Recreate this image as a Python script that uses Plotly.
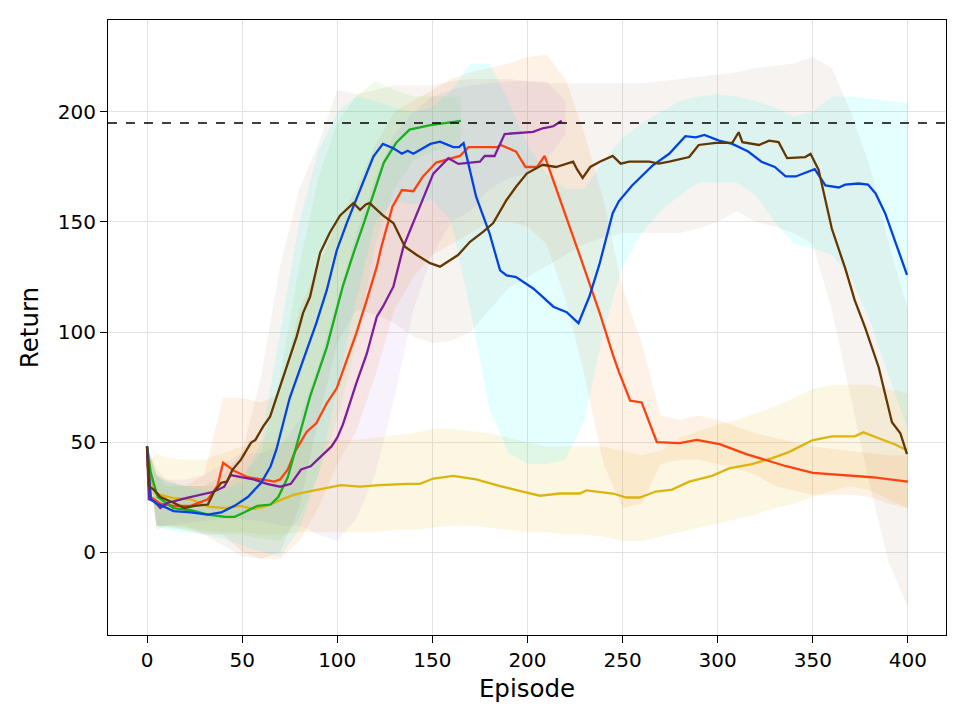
import plotly.graph_objects as go

# Curvas médias (episódio, retorno)
blue_ep = [0, 2, 5, 8, 14, 23, 32, 39, 46, 53, 60, 65, 68, 72, 75, 82, 89, 94.5, 99.7, 105, 112, 119, 124, 129.5, 134, 137, 140, 145, 149, 154, 161, 164, 166.4, 173, 180, 185.6, 189, 194, 203, 208, 213.6, 220.6, 226.8, 232.5, 237.8, 244.8, 248, 255, 265.7, 274.5, 283, 288.5, 293, 300.7, 307.7, 316, 323, 330, 335.7, 341, 351, 356.6, 363.6, 367, 374, 379, 383, 388, 393, 399.5]
blue_val = [48, 24, 22, 21, 18.6, 18, 17, 18, 21, 25, 31.5, 39, 46.5, 60, 70, 87, 104, 119, 137, 149.5, 164.5, 179.7, 185.5, 183.5, 181, 182.4, 181, 183.5, 185.5, 186.5, 184, 184, 185.8, 161.5, 145, 128, 125.7, 125, 119.8, 116, 111.5, 109, 104, 116, 130.7, 154, 159.4, 166.6, 175.6, 181, 189, 188.5, 189.6, 187, 185.5, 182, 177.4, 175, 170.7, 170.7, 174, 166.6, 165.7, 167, 167.5, 167, 163, 154, 141.5, 126]

green_ep = [0, 2, 5.6, 14, 23, 32, 41, 46, 51, 58, 65, 69, 74, 79, 85.7, 94.5, 103, 109, 114, 124.5, 131, 138, 149, 165]
green_val = [48, 36, 25, 20, 19, 17, 16, 16, 18, 21, 21.6, 25, 34, 50, 70.6, 93, 121, 137, 149.5, 177, 186, 192, 194, 196]

red_ep = [0, 2, 7, 14, 23, 32, 37, 40, 46, 53, 60, 67, 70, 74, 78, 84, 89, 94.5, 99.7, 105, 110, 115.5, 120.8, 123, 129, 134, 140, 145, 152, 164.5, 169, 184, 186, 194, 199, 205, 209, 227, 238, 245, 248, 254, 260, 268, 280, 289, 301, 315, 325, 336, 350, 367, 381, 400]
red_val = [48, 25, 22, 21, 21, 24, 30, 40.6, 36.8, 34, 33, 32, 33, 37.5, 46, 54.7, 58.5, 67.6, 74.4, 87, 99.4, 114.5, 129.7, 138, 157, 164.5, 164, 170.6, 177, 180, 184, 184, 185, 182, 175, 175, 180, 136, 108.6, 89.4, 82, 68.8, 68, 50, 49.5, 51, 49, 44.5, 41.8, 39, 36, 35, 34, 32]

purple_ep = [0, 1, 4, 7, 11, 14, 21, 28, 35, 40.6, 44, 49.4, 56, 63, 70, 75.6, 81, 86, 93, 97, 100, 103, 106, 110, 115.5, 120.8, 124, 129.5, 134.8, 141.8, 150.5, 158.4, 163.7, 175, 177.5, 182.7, 188, 203, 208, 213.6, 218]
purple_val = [48, 24, 23, 20, 22.5, 23, 24.6, 26, 27.4, 29.7, 35, 34, 33, 31, 29.7, 31, 37.5, 39, 45, 48, 52, 58, 66, 76.7, 90, 107, 111.5, 120.6, 138.8, 154, 172, 179, 176.4, 177.4, 180, 180, 190, 191, 192.6, 193.5, 196]

brown_ep = [0, 1, 4, 7, 14, 19.6, 25, 32, 35, 39, 42, 45, 49.4, 54.6, 57, 61, 64.7, 71.7, 78.7, 82, 85.7, 91, 96, 101.5, 106.7, 108.5, 112, 115, 117, 124, 129.5, 135.6, 141.8, 148.8, 154, 159, 163.5, 169.8, 176.8, 182, 189, 194, 199.6, 204.9, 208, 215, 219, 224, 226, 229, 233, 238, 244.8, 249, 253.5, 264, 269, 274.5, 285, 290, 299, 307.7, 311, 313, 321.7, 327, 332, 336.5, 346, 348.8, 353, 360, 367, 372, 377.5, 384.6, 391.6, 396, 399.5]
brown_val = [48, 30, 28, 25, 22.4, 20, 21, 21.6, 27, 31.5, 32, 37.5, 42, 49.6, 51, 57, 61.5, 79.7, 98, 108.6, 116, 136, 145, 153, 157, 158.6, 155.5, 158, 158.6, 153, 149.5, 138.8, 135, 131.3, 129.7, 132.7, 135, 141, 145.6, 149.5, 160, 166, 172, 174.5, 176, 175, 176, 177.4, 174, 170, 175, 177.4, 180, 176.5, 177.4, 177.4, 176.5, 177.4, 179.5, 185, 186, 186, 190.8, 186.3, 185, 187, 186.3, 179, 179.5, 181, 173.8, 146.9, 129, 114.5, 102, 84, 59, 54, 44.5]

gold_ep = [0, 2, 4, 7, 14, 23, 32, 41, 49, 56, 63, 70, 77, 84, 93, 102, 112, 122, 137, 143.5, 150.5, 161, 173, 185.6, 198, 206.6, 217, 227.5, 231, 245, 252, 259, 267.5, 276, 285, 297, 306, 318, 328.7, 337.4, 349.7, 360, 372, 376.6, 384.6, 393, 399.5]
gold_val = [40, 33, 27, 26, 24.5, 24, 20.6, 20, 21, 19.6, 21, 23.6, 26, 27.4, 29, 30.4, 29.7, 30.4, 31, 31, 33.4, 34.6, 33, 30, 27.4, 25.6, 26.6, 26.6, 28, 26.6, 24.8, 24.8, 27.5, 28.4, 32, 34.6, 38, 40, 42.7, 45.4, 50.8, 52.6, 52.6, 54.4, 51.7, 49, 46.3]

# Faixas de variação (limite superior / inferior)
band_ep = [0, 5, 10, 20, 30, 40, 50, 60, 70, 80, 90, 100, 110, 120, 130, 140, 150, 160, 170, 180, 190, 200,
           210, 220, 230, 240, 250, 260, 270, 280, 290, 300, 310, 320, 330, 340, 350, 360, 370, 380, 390, 400]

blue_up = [48, 35, 32, 30, 28, 28, 32, 50, 100, 150, 182, 200, 207, 205, 202, 200, 202, 210, 222, 222, 205, 185,
           172, 165, 165, 178, 188, 195, 200, 205, 207, 208, 207, 205, 202, 198, 200, 207, 207, 206, 205, 204]
blue_lo = [48, 12, 10, 9, 8, 6, 3, 0, -2, 10, 35, 75, 115, 150, 160, 158, 160, 150, 110, 65, 45, 40,
           40, 42, 60, 100, 130, 145, 155, 162, 168, 168, 168, 162, 150, 140, 138, 135, 125, 105, 80, 55]

brown_up = [48, 38, 33, 30, 30, 35, 45, 80, 130, 165, 185, 210, 208, 210, 212, 212, 212, 214, 215, 215, 215, 214,
            213, 213, 213, 213, 213, 213, 214, 215, 216, 217, 218, 220, 221, 222, 225, 220, 200, 175, 140, 110]
brown_lo = [48, 10, 12, 12, 8, 3, -2, -3, 0, 20, 60, 95, 110, 108, 104, 98, 95, 96, 100, 110, 120, 125,
            130, 135, 140, 143, 145, 145, 145, 145, 147, 150, 155, 150, 148, 145, 140, 110, 70, 30, -5, -25]

red_up = [48, 35, 30, 30, 35, 70, 70, 68, 72, 110, 130, 150, 165, 185, 200, 205, 210, 215, 218, 220, 222, 225,
          226, 215, 190, 160, 120, 95, 62, 60, 62, 60, 57, 54, 52, 50, 48, 47, 46, 45, 44, 44]
red_lo = [48, 12, 12, 10, 8, 8, 0, -3, -3, 5, 20, 40, 55, 80, 110, 125, 135, 140, 145, 150, 150, 148,
          140, 115, 80, 40, 20, 22, 40, 42, 42, 40, 38, 35, 30, 28, 26, 26, 26, 25, 22, 20]

gold_up = [40, 45, 43, 42, 42, 45, 48, 50, 50, 50, 50, 51, 51, 52, 53, 54, 56, 56, 55, 54, 52, 50,
           48, 48, 48, 48, 46, 44, 46, 52, 55, 58, 60, 63, 66, 70, 74, 76, 76, 76, 74, 72]
gold_lo = [40, 12, 12, 11, 10, 9, 9, 8, 8, 9, 9, 9, 9, 9, 10, 10, 11, 12, 12, 11, 10, 9,
           9, 8, 8, 7, 5, 5, 7, 9, 11, 13, 15, 17, 20, 22, 25, 28, 30, 28, 24, 20]

green_band_ep = [0, 5, 10, 20, 30, 40, 50, 60, 70, 80, 90, 100, 110, 120, 130, 140, 150, 160, 165]
green_up = [48, 35, 32, 30, 30, 30, 35, 45, 80, 130, 170, 195, 207, 214, 210, 207, 207, 207, 207]
green_lo = [48, 12, 11, 10, 9, 8, 8, 6, 5, 15, 35, 60, 95, 140, 165, 178, 182, 184, 185]

purple_band_ep = [0, 5, 10, 20, 30, 40, 50, 60, 70, 80, 90, 100, 110, 120, 130, 140, 150, 160, 170, 180, 190, 200, 210, 220]
purple_up = [48, 35, 33, 33, 35, 40, 45, 45, 48, 60, 85, 115, 145, 170, 190, 200, 207, 210, 212, 213, 214, 214, 214, 205]
purple_lo = [48, 12, 12, 13, 14, 15, 15, 14, 12, 12, 8, 5, 15, 35, 70, 110, 135, 150, 155, 165, 170, 172, 178, 190]

target = 195

series = [
    # (x, y, cor da linha, x faixa, sup, inf, cor da faixa)
    (gold_ep, gold_val, "#dbb40c", band_ep, gold_up, gold_lo, "rgba(230,190,40,0.13)"),
    (red_ep, red_val, "#fe420f", band_ep, red_up, red_lo, "rgba(249,115,6,0.10)"),
    (green_ep, green_val, "#15b01a", green_band_ep, green_up, green_lo, "rgba(120,230,90,0.12)"),
    (purple_ep, purple_val, "#7e1e9c", purple_band_ep, purple_up, purple_lo, "rgba(180,110,220,0.09)"),
    (blue_ep, blue_val, "#0343df", band_ep, blue_up, blue_lo, "rgba(0,255,255,0.11)"),
    (brown_ep, brown_val, "#653700", band_ep, brown_up, brown_lo, "rgba(140,90,40,0.07)"),
]

fig = go.Figure()

# Faixas primeiro, linhas por cima
for x, y, c, bx, up, lo, fc in series:
    fig.add_trace(go.Scatter(
        x=bx + bx[::-1], y=up + lo[::-1], fill="toself", fillcolor=fc,
        line=dict(width=0), mode="lines", hoverinfo="skip", showlegend=False))

for x, y, c, bx, up, lo, fc in series:
    fig.add_trace(go.Scatter(x=x, y=y, mode="lines", line=dict(color=c, width=2.3),
                             showlegend=False))

fig.add_shape(type="line", xref="paper", x0=0, x1=1, yref="y", y0=target, y1=target,
              line=dict(color="black", width=1.5, dash="dash"))

axis_common = dict(showline=True, linecolor="black", linewidth=1.2, mirror=True,
                   ticks="outside", ticklen=7, tickcolor="black", showgrid=True,
                   gridcolor="#e3e3e3", gridwidth=1, zeroline=False,
                   tickfont=dict(size=20, color="black"))

fig.update_layout(
    width=968, height=726,
    margin=dict(l=100, r=30, t=12, b=99),
    plot_bgcolor="white", paper_bgcolor="white",
    font=dict(family="DejaVu Sans", color="black"),
    xaxis=dict(range=[-20.5, 420], tickvals=list(range(0, 401, 50)),
               title=dict(text="Episode", font=dict(size=24.5), standoff=8), **axis_common),
    yaxis=dict(range=[-37.7, 241.8], tickvals=[0, 50, 100, 150, 200],
               title=dict(text="Return", font=dict(size=24.5), standoff=12), **axis_common),
)

fig.write_html("out.html")
